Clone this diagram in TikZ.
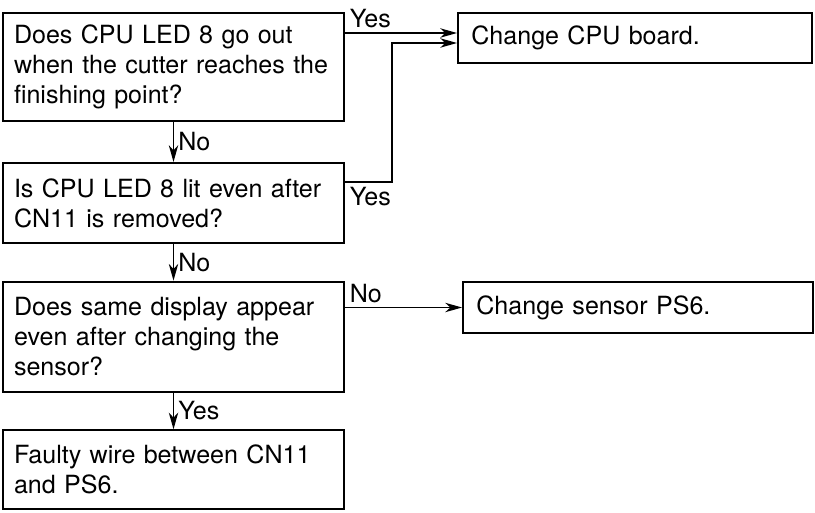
\documentclass[tikz,border=0pt]{standalone}
\usepackage{fontspec}
\setmainfont{TeX Gyre Heros}
\usetikzlibrary{arrows.meta, positioning}

\begin{document}
\begin{tikzpicture}[
    node distance=1.2cm,
    every node/.style={font=\fontsize{21.4}{25.6}\selectfont},
    box/.style={rectangle, draw=black, line width=1.7pt, text width=9.57cm, inner xsep=0.33cm, align=left},
    result/.style={rectangle, draw=black, line width=1.7pt, inner xsep=0.4cm, minimum height=1.5cm, align=left},
    arrow/.style={-{Stealth[length=5mm, width=2.8mm, inset=1.5mm]}, line width=1.6pt}
]
\useasboundingbox (0,0) rectangle (24.45,-15.39);

% Left column: questions and final check
\node[box, minimum height=3.24cm] (q1) at (5.205,-2.01) {Does CPU LED 8 go out\\when the cutter reaches the\\finishing point?};
\node[box, minimum height=2.4cm, below=1.2cm of q1] (q2) {Is CPU LED 8 lit even after\\CN11 is removed?};
\node[box, minimum height=3.3cm, below=1.1cm of q2] (q3) {Does same display appear\\even after changing the\\sensor?};
\node[box, minimum height=2.37cm, below=1.1cm of q3] (fault) {Faulty wire between CN11\\and PS6.};

% Right column: remedies
\node[result, text width=9.82cm] (cpu) at (19.05,-1.14) {Change CPU board.};
\node[result, text width=9.7cm, minimum height=1.53cm] (ps6) at (19.14,-9.225) {Change sensor PS6.};

% Down the "No" path
\draw[arrow] (q1) -- node[right] {No} (q2);
\draw[arrow] (q2) -- node[right] {No} (q3);
\draw[arrow] (q3) -- node[right] {Yes} (fault);

% Both "Yes" answers lead to the CPU board
\coordinate (yestop) at ([yshift=0.15cm]cpu.west);
\coordinate (yesbot) at ([yshift=-0.15cm]cpu.west);
\draw[arrow] (yestop -| q1.east) node[above right] {Yes} -- (yestop);
\draw[arrow] ([yshift=0.63cm]q2.east) node[below right] {Yes} -| ([xshift=-1.95cm]yesbot) -- (yesbot);

% Sensor check
\draw[arrow] (q3.east |- ps6.west) node[above right] {No} -- (ps6.west);

\end{tikzpicture}
\end{document}
